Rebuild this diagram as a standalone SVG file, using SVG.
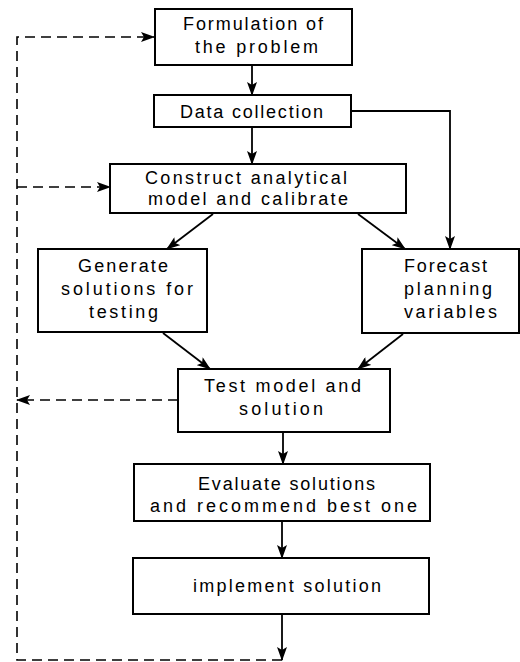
<svg xmlns="http://www.w3.org/2000/svg" width="520" height="662" viewBox="0 0 520 662">
<style>
.box{fill:#fff;stroke:#000;stroke-width:2}
.t{font-family:"Liberation Sans","DejaVu Sans",sans-serif;font-size:18px;fill:#000}
.c{fill:none;stroke:#000;stroke-width:1.8}
.d{fill:none;stroke:#000;stroke-width:1.6;stroke-dasharray:10 6}
</style>
<defs>
<marker id="ah" markerUnits="userSpaceOnUse" markerWidth="14" markerHeight="10" refX="13" refY="5" orient="auto">
<path d="M0,0 L14,5 L0,10 L3,5 Z" fill="#000"/>
</marker>
</defs>
<rect width="520" height="662" fill="#fff"/>
<g id="connectors">
<line class="c" x1="252" y1="65" x2="252" y2="95" marker-end="url(#ah)"/>
<line class="c" x1="252" y1="127" x2="252" y2="164" marker-end="url(#ah)"/>
<polyline class="c" points="351,111 450,111 450,249" marker-end="url(#ah)"/>
<line class="c" x1="213" y1="214" x2="167" y2="249" marker-end="url(#ah)"/>
<line class="c" x1="358" y1="214" x2="405" y2="249" marker-end="url(#ah)"/>
<line class="c" x1="163" y1="333" x2="210" y2="369" marker-end="url(#ah)"/>
<line class="c" x1="403" y1="334" x2="358" y2="369" marker-end="url(#ah)"/>
<line class="c" x1="283" y1="432" x2="283" y2="464" marker-end="url(#ah)"/>
<line class="c" x1="282" y1="521" x2="282" y2="558" marker-end="url(#ah)"/>
<line class="c" x1="282" y1="614" x2="282" y2="660" marker-end="url(#ah)"/>
<polyline class="d" points="282,660 17,660 17,37 154,37" marker-end="url(#ah)"/>
<line class="d" x1="17" y1="187" x2="110" y2="187" marker-end="url(#ah)"/>
<line class="d" x1="178" y1="400" x2="17" y2="400" marker-end="url(#ah)"/>
</g>
<g id="n1">
<rect class="box" x="155" y="9" width="197" height="56"/>
<text class="t" x="183" y="30" textLength="140" lengthAdjust="spacing">Formulation of</text>
<text class="t" x="195" y="53" textLength="123" lengthAdjust="spacing">the problem</text>
</g>
<g id="n2">
<rect class="box" x="154" y="95" width="197" height="32"/>
<text class="t" x="180" y="118" textLength="143" lengthAdjust="spacing">Data collection</text>
</g>
<g id="n3">
<rect class="box" x="110" y="164" width="296" height="49"/>
<text class="t" x="145" y="184" textLength="202" lengthAdjust="spacing">Construct analytical</text>
<text class="t" x="148" y="205" textLength="200" lengthAdjust="spacing">model and calibrate</text>
</g>
<g id="n4">
<rect class="box" x="38" y="249" width="169" height="83"/>
<text class="t" x="78" y="272" textLength="90" lengthAdjust="spacing">Generate</text>
<text class="t" x="61" y="295" textLength="132" lengthAdjust="spacing">solutions for</text>
<text class="t" x="89" y="318" textLength="69" lengthAdjust="spacing">testing</text>
</g>
<g id="n5">
<rect class="box" x="362" y="249" width="157" height="84"/>
<text class="t" x="404" y="272" textLength="83" lengthAdjust="spacing">Forecast</text>
<text class="t" x="404" y="295" textLength="88" lengthAdjust="spacing">planning</text>
<text class="t" x="404" y="318" textLength="93" lengthAdjust="spacing">variables</text>
</g>
<g id="n6">
<rect class="box" x="178" y="369" width="212" height="63"/>
<text class="t" x="204" y="392" textLength="157" lengthAdjust="spacing">Test model and</text>
<text class="t" x="239" y="415" textLength="84" lengthAdjust="spacing">solution</text>
</g>
<g id="n7">
<rect class="box" x="134" y="464" width="296" height="57"/>
<text class="t" x="198" y="490" textLength="177" lengthAdjust="spacing">Evaluate solutions</text>
<text class="t" x="150" y="512" textLength="267" lengthAdjust="spacing">and recommend best one</text>
</g>
<g id="n8">
<rect class="box" x="133" y="558" width="296" height="56"/>
<text class="t" x="193" y="592" textLength="188" lengthAdjust="spacing">implement solution</text>
</g>
</svg>
